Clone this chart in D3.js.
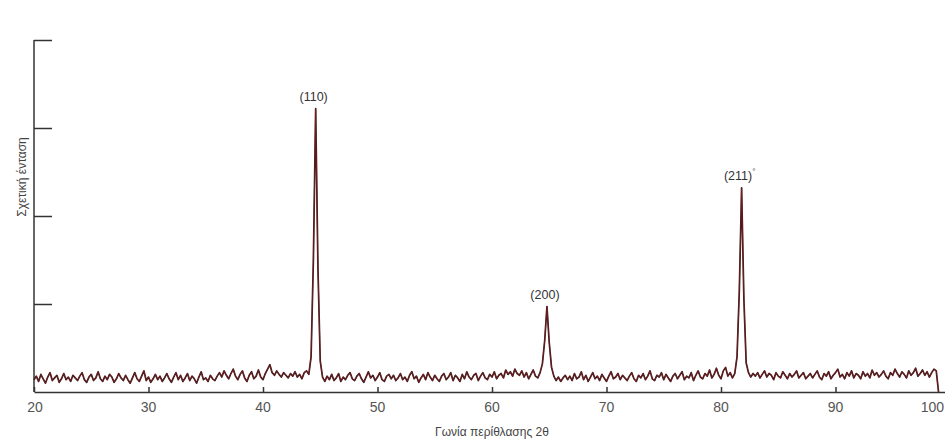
<!DOCTYPE html>
<html lang="el">
<head>
<meta charset="utf-8">
<title>XRD</title>
<script src="https://d3js.org/d3.v7.min.js"></script>
<style>
  * { margin:0; padding:0; }
  body { background:#fff; width:945px; height:448px; overflow:hidden; font-family:'Liberation Sans', Arial, sans-serif; }
  svg { display:block; }
  .axis path, .axis line { stroke:#333; stroke-width:1.5; }
  .tick-label { fill:#555; font-size:14px; }
  .axis-title { fill:#444; font-size:12px; }
  .peak-label { fill:#333; font-size:12.5px; }
</style>
</head>
<body>
<svg id="chart" width="945" height="448"></svg>
<script>
// sampling grid of the scan (2θ, degrees)
const angleStart = 20;
const angleStep = 0.2;

// relative intensity, one value per step (1 unit = one y tick)
const intensity = [
  // 20.0 - 23.8
  0.14,0.18,0.12,0.20,0.15,0.10,0.17,0.22,0.13,0.16,0.19,0.11,0.15,0.21,0.14,0.17,0.12,0.19,0.16,0.13,
  // 24.0 - 27.8
  0.18,0.22,0.14,0.11,0.17,0.20,0.13,0.16,0.23,0.15,0.12,0.18,0.14,0.20,0.17,0.11,0.15,0.21,0.16,0.13,
  // 28.0 - 31.8
  0.19,0.14,0.10,0.16,0.22,0.15,0.12,0.18,0.24,0.13,0.17,0.11,0.15,0.20,0.14,0.18,0.12,0.16,0.21,0.15,
  // 32.0 - 35.8
  0.11,0.17,0.22,0.14,0.19,0.12,0.16,0.21,0.13,0.18,0.15,0.10,0.17,0.23,0.14,0.16,0.12,0.19,0.15,0.13,
  // 36.0 - 39.8
  0.18,0.22,0.17,0.24,0.19,0.15,0.21,0.26,0.18,0.14,0.20,0.24,0.16,0.12,0.19,0.23,0.15,0.18,0.25,0.17,
  // 40.0 - 43.8
  0.14,0.21,0.26,0.31,0.22,0.19,0.24,0.20,0.17,0.22,0.19,0.16,0.21,0.18,0.23,0.17,0.20,0.15,0.22,0.24,
  // 44.0 - 47.8  (110)
  0.20,0.40,1.50,3.22,1.40,0.35,0.17,0.12,0.18,0.14,0.20,0.13,0.16,0.21,0.12,0.17,0.14,0.19,0.22,0.15,
  // 48.0 - 51.8
  0.13,0.18,0.21,0.15,0.11,0.17,0.23,0.16,0.19,0.13,0.17,0.22,0.14,0.12,0.18,0.20,0.15,0.19,0.13,0.16,
  // 52.0 - 55.8
  0.21,0.14,0.17,0.12,0.19,0.23,0.15,0.18,0.11,0.16,0.20,0.14,0.22,0.17,0.13,0.19,0.15,0.12,0.18,0.21,
  // 56.0 - 59.8
  0.14,0.17,0.22,0.13,0.19,0.16,0.12,0.20,0.15,0.23,0.17,0.14,0.19,0.21,0.13,0.18,0.22,0.16,0.14,0.20,
  // 60.0 - 63.8
  0.17,0.23,0.15,0.19,0.21,0.16,0.25,0.20,0.23,0.18,0.26,0.21,0.19,0.24,0.17,0.22,0.15,0.20,0.25,0.18,
  // 64.0 - 67.8  (200)
  0.16,0.22,0.32,0.58,0.97,0.56,0.28,0.18,0.13,0.17,0.12,0.16,0.19,0.14,0.18,0.13,0.21,0.15,0.17,0.23,
  // 68.0 - 71.8
  0.14,0.19,0.12,0.17,0.22,0.15,0.18,0.13,0.20,0.16,0.12,0.18,0.23,0.15,0.17,0.21,0.14,0.19,0.16,0.13,
  // 72.0 - 75.8
  0.18,0.22,0.15,0.12,0.19,0.16,0.21,0.14,0.18,0.24,0.15,0.13,0.19,0.17,0.22,0.14,0.20,0.16,0.12,0.18,
  // 76.0 - 79.8
  0.21,0.15,0.19,0.23,0.14,0.18,0.16,0.22,0.13,0.19,0.24,0.17,0.15,0.21,0.18,0.25,0.16,0.20,0.27,0.19,
  // 80.0 - 83.8  (211)
  0.15,0.24,0.28,0.18,0.22,0.16,0.21,0.40,1.15,2.32,1.05,0.33,0.22,0.17,0.21,0.18,0.22,0.16,0.20,0.24,
  // 84.0 - 87.8
  0.17,0.21,0.19,0.14,0.22,0.18,0.16,0.23,0.19,0.15,0.21,0.17,0.20,0.24,0.16,0.19,0.22,0.15,0.18,0.21,
  // 88.0 - 91.8
  0.16,0.20,0.24,0.17,0.14,0.21,0.18,0.23,0.15,0.19,0.22,0.26,0.17,0.20,0.15,0.22,0.18,0.24,0.16,0.21,
  // 92.0 - 95.8
  0.19,0.15,0.23,0.18,0.21,0.16,0.25,0.19,0.22,0.17,0.20,0.24,0.18,0.15,0.22,0.19,0.26,0.21,0.17,0.23,
  // 96.0 - 99.0
  0.20,0.16,0.24,0.19,0.22,0.27,0.18,0.21,0.25,0.19,0.23,0.17,0.22,0.26,0.24,0.00
];

const peakLabels = ['(110)', '(200)', '(211)'];
const peakAngles = [44.6, 64.8, 81.8];
const peakMarks = ['', '', '°'];

const xTicks = [20, 30, 40, 50, 60, 70, 80, 90, 100];
const yTicks = [1, 2, 3, 4];

const svg = d3.select('#chart');
const W = 945;
const x = d3.scaleLinear().domain([20, 100]).range([34, 950]);
const y = d3.scaleLinear().domain([0, 4]).range([392, 40]);

const points = intensity.map((v, i) => ({ a: angleStart + i * angleStep, v }));

// x axis: small inward ticks, labels below
const xAxis = svg.append('g')
  .attr('class', 'axis')
  .attr('transform', `translate(0,${y(0)})`)
  .call(d3.axisBottom(x).tickValues(xTicks).tickSize(-5).tickSizeOuter(0).tickFormat(''));
xAxis.selectAll('.tick line').attr('stroke-width', 1.2);

// the last label sits on the right edge of the page, keep it inside
svg.append('g').selectAll('text')
  .data(xTicks)
  .join('text')
  .attr('class', 'tick-label')
  .attr('x', d => x(d) > W - 12 ? W - 1 : x(d) + (d === 20 ? 1 : 0))
  .attr('y', y(0) + 20)
  .attr('text-anchor', d => x(d) > W - 12 ? 'end' : 'middle')
  .text(d => d);

// y axis: ticks pointing into the plot, no labels
svg.append('g')
  .attr('class', 'axis')
  .attr('transform', `translate(${x(20)},0)`)
  .call(d3.axisRight(y).tickValues(yTicks).tickSize(18).tickSizeOuter(0).tickFormat(''))
  .call(g => g.select('.domain').attr('d', `M0,${y(0)}V${y(4)}`));

// scan trace
const line = d3.line().x(d => x(d.a)).y(d => y(d.v));
svg.append('path')
  .datum(points)
  .attr('fill', 'none')
  .attr('stroke', '#3a1a1a')
  .attr('stroke-width', 1.7)
  .attr('stroke-linejoin', 'round')
  .attr('d', line);
svg.append('path')
  .datum(points)
  .attr('fill', 'none')
  .attr('stroke', '#8a1f24')
  .attr('stroke-width', 0.6)
  .attr('stroke-linejoin', 'round')
  .attr('d', line);

// peak labels
const peakValue = a => intensity[Math.round((a - angleStart) / angleStep)];
const lbl = svg.append('g').selectAll('text')
  .data(peakLabels)
  .join('text')
  .attr('class', 'peak-label')
  .attr('x', (d, i) => x(peakAngles[i]) - 2)
  .attr('y', (d, i) => y(peakValue(peakAngles[i])) - 8)
  .attr('text-anchor', 'middle')
  .text(d => d);
lbl.filter((d, i) => peakMarks[i])
  .append('tspan')
  .attr('dy', -6)
  .attr('font-size', 8)
  .text((d, i) => '°');

// axis titles
svg.append('text')
  .attr('class', 'axis-title')
  .attr('transform', `translate(22,177) rotate(-90)`)
  .attr('text-anchor', 'middle')
  .attr('dominant-baseline', 'central')
  .text('Σχετική ένταση');

svg.append('text')
  .attr('class', 'axis-title')
  .attr('x', 492)
  .attr('y', 436)
  .attr('text-anchor', 'middle')
  .text('Γωνία περίθλασης 2θ');
</script>
</body>
</html>
